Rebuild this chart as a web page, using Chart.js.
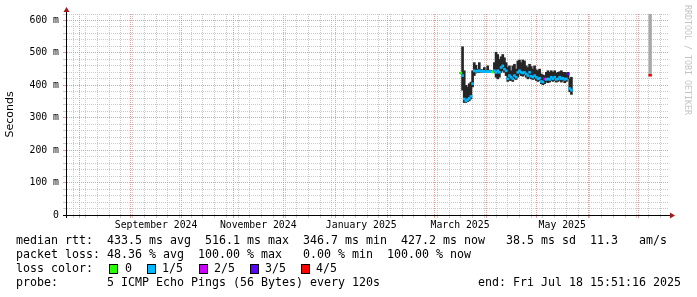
<!DOCTYPE html>
<html><head><meta charset="utf-8">
<script src="https://cdn.jsdelivr.net/npm/chart.js@4.4.1/dist/chart.umd.min.js"></script>
<style>html,body{margin:0;padding:0;background:#fff}#wrap{width:697px;height:297px;position:relative}canvas{display:block}</style>
</head><body><div id="wrap"><canvas id="c" width="697" height="297" style="width:697px;height:297px"></canvas></div>
<script>
// ---- data (RTT in milliseconds; axis labels "m" = milliseconds of seconds) ----
const sampleDates = [
 '2025-03-17','2025-03-18','2025-03-19','2025-03-20','2025-03-21','2025-03-22','2025-03-23','2025-03-24','2025-03-25','2025-03-26',
 '2025-03-27','2025-03-28','2025-03-29','2025-03-30','2025-03-31','2025-04-01','2025-04-02','2025-04-03','2025-04-04','2025-04-05',
 '2025-04-06','2025-04-07','2025-04-08','2025-04-09','2025-04-10','2025-04-11','2025-04-12','2025-04-13','2025-04-14','2025-04-15',
 '2025-04-16','2025-04-17','2025-04-18','2025-04-19','2025-04-20','2025-04-21','2025-04-22','2025-04-23','2025-04-24','2025-04-25',
 '2025-04-26','2025-04-27','2025-04-28','2025-04-29','2025-04-30','2025-05-01','2025-05-02','2025-05-03','2025-05-04','2025-05-05',
 '2025-05-06','2025-05-07','2025-05-08','2025-05-09','2025-05-10','2025-05-11','2025-05-12','2025-05-13','2025-05-14','2025-05-15',
 '2025-05-16','2025-05-17','2025-05-18','2025-05-19','2025-05-20','2025-05-21','2025-05-22'];
const smokeLow = [
 436,385,347,347,350,352,358,395,430,438, 440,440,441,440,440,439,440,440,440,439,
 440,425,420,425,440,445,440,430,412,415, 415,412,420,418,425,435,430,428,432,425,
 420,425,420,418,420,415,412,415,405,402, 405,410,408,410,415,412,415,410,412,415,
 410,415,408,412,420,380,372];
const smokeHigh = [
 440,519,445,400,395,405,410,445,470,462, 450,470,449,448,455,447,460,447,446,444,
 470,502,495,480,488,495,485,470,455,460, 445,460,465,450,475,478,470,478,475,460,
 455,465,458,450,460,448,445,450,435,432, 430,440,445,440,445,440,445,438,440,442,
 445,440,440,438,440,420,425];
const medianRtt = [
 438,430,358,352,356,360,366,405,445,443, 444,445,444,443,443,442,443,442,442,441,
 445,440,445,440,455,460,450,445,420,430, 425,420,430,425,440,445,440,438,440,435,
 430,440,428,425,430,425,420,422,412,410, 420,418,420,418,425,420,425,418,420,425,
 420,422,418,420,435,390,385];
const lossLevel = [
 0,1,1,1,1,1,1,1,1,1, 1,1,1,1,1,1,1,1,1,0,
 1,1,1,1,1,1,1,1,1,1, 1,1,1,1,1,1,1,1,1,1,
 1,1,1,1,1,1,1,1,1,1, 2,1,1,1,1,1,1,1,1,1,
 1,1,1,1,3,1,1];
const lateDates = ['2025-07-08'];
const lateLow = [430];
const lateHigh = [620];
const lateMedian = [431];
const lateLoss = [4];

const lossNames = ['0','1/5','2/5','3/5','4/5'];
const lossColors = ['#26ff00','#00b8ff','#cc00ff','#5e00ff','#ff0000'];

const monthStarts = ['2024-08-01','2024-09-01','2024-10-01','2024-11-01','2024-12-01','2025-01-01',
 '2025-02-01','2025-03-01','2025-04-01','2025-05-01','2025-06-01','2025-07-01','2025-08-01'];
const monthLabels = ['September 2024','November 2024','January 2025','March 2025','May 2025'];
const labelMonthIdx = [1,3,5,7,9];
const yTickValues = [0,100,200,300,400,500,600];
const yMin = 0, yMax = 620, yMinorStep = 20;
const startTime = '2024-07-24T20:00:00';
const endTime = '2025-07-18T15:51:16';

const legendLines = [
 'median rtt:  433.5 ms avg  516.1 ms max  346.7 ms min  427.2 ms now   38.5 ms sd  11.3   am/s',
 'packet loss: 48.36 % avg  100.00 % max   0.00 % min  100.00 % now',
 'loss color:',
 'probe:       5 ICMP Echo Pings (56 Bytes) every 120s'
];
const endLabel = 'end: Fri Jul 18 15:51:16 2025';

// ---- helpers ----
const EPOCH = Date.UTC(2024,7,1);
const dayOf = s => {
  const [d,t] = s.split('T'); const [y,m,dd] = d.split('-').map(Number);
  let h=0,mi=0,se=0; if (t) [h,mi,se] = t.split(':').map(Number);
  return (Date.UTC(y,m-1,dd,h,mi,se)-EPOCH)/864e5;
};
const xMin = dayOf(startTime), xMax = dayOf(endTime);
const sDays = sampleDates.map(dayOf), lDays = lateDates.map(dayOf);
const mDays = monthStarts.map(dayOf);
const key = v => Math.round(v*1000);
const tickKind = new Map();
for (let d = dayOf('2024-07-29'); d < xMax; d += 7) if (d > xMin) tickKind.set(key(d), 'minor');
mDays.forEach(d => { if (d > xMin && d < xMax) tickKind.set(key(d), 'major'); });
const labelAt = new Map();
labelMonthIdx.forEach((mi,i) => { const c = (mDays[mi]+mDays[mi+1])/2 + 0.001; labelAt.set(key(c), monthLabels[i]); tickKind.set(key(c),'label'); });
const xTicks = [...tickKind.keys()].sort((a,b)=>a-b).map(k=>k/1000);

const MAJ = 'rgba(222,140,140,0.85)', MIN = 'rgba(190,190,190,0.8)';
const MED_HALF = 3; // half-height of the median mark, ms

const overlay = {
  id:'overlay',
  afterDraw(chart){
    const {ctx, chartArea:a} = chart;
    ctx.save();
    ctx.strokeStyle = '#000'; ctx.lineWidth = 1;
    ctx.beginPath(); ctx.moveTo(a.left-4, Math.round(a.bottom)+0.5); ctx.lineTo(a.right+3, Math.round(a.bottom)+0.5); ctx.stroke();
    ctx.beginPath(); ctx.moveTo(Math.round(a.left)-0.5, a.bottom+3); ctx.lineTo(Math.round(a.left)-0.5, a.top-3); ctx.stroke();
    ctx.fillStyle = '#a01a1a';
    ctx.beginPath(); const ax = a.right+2, ay = Math.round(a.bottom)+0.5;
    ctx.moveTo(ax, ay-3); ctx.lineTo(ax+5, ay); ctx.lineTo(ax, ay+3); ctx.closePath(); ctx.fill();
    const bx = Math.round(a.left)-0.5, by = a.top-2;
    ctx.beginPath(); ctx.moveTo(bx-3, by); ctx.lineTo(bx, by-5); ctx.lineTo(bx+3, by); ctx.closePath(); ctx.fill();
    ctx.fillStyle = '#000'; ctx.textBaseline = 'middle'; ctx.textAlign = 'left';
    ctx.font = '11.63px "DejaVu Sans Mono"';
    const rows = [241,255,269,283];
    legendLines.forEach((t,i) => ctx.fillText(t, 16, rows[i]));
    ctx.textAlign = 'right'; ctx.fillText(endLabel, 681, rows[3]);
    ctx.textAlign = 'left';
    const boxX = [109,147,199,250,301], txtX = [125,162,214,265,316];
    lossNames.forEach((n,i) => {
      ctx.fillStyle = lossColors[i]; ctx.fillRect(boxX[i]+0.5, rows[2]-4.5, 8, 9);
      ctx.strokeStyle = '#000'; ctx.strokeRect(boxX[i]+0.5, rows[2]-4.5, 8, 9);
      ctx.fillStyle = '#000'; ctx.fillText(n, txtX[i], rows[2]);
    });
    ctx.save(); ctx.translate(687.5, 5); ctx.rotate(Math.PI/2);
    ctx.fillStyle = '#c4c4c4'; ctx.font = '8.3px "DejaVu Sans Mono"'; ctx.textBaseline='middle';
    ctx.fillText('RRDTOOL / TOBI OETIKER', 0, 0); ctx.restore();
    ctx.restore();
  }
};

const xGridColor = c => {
  if (!c || !c.tick) return 'rgba(0,0,0,0)';
  const k = tickKind.get(key(c.tick.value));
  return k==='major'?MAJ:(k==='minor'?MIN:'rgba(0,0,0,0)');
};
const yGridColor = c => (!c || !c.tick) ? 'rgba(0,0,0,0)' : (c.tick.value % 100 === 0 ? MAJ : MIN);

new Chart(document.getElementById('c'), {
  data: {
    datasets: [
      { type:'bar', label:'median', order:0, grouped:false,
        data: sDays.map((d,i)=>({x:d, y:[medianRtt[i]-MED_HALF, medianRtt[i]+MED_HALF]})),
        backgroundColor: lossLevel.map(l=>lossColors[l]), borderWidth:0, barThickness:2 },
      { type:'bar', label:'late median', order:0, grouped:false,
        data: lDays.map((d,i)=>({x:d, y:[lateMedian[i]-MED_HALF, lateMedian[i]+MED_HALF]})),
        backgroundColor: lateLoss.map(l=>lossColors[l]), borderWidth:0, barThickness:2.7 },
      { type:'bar', label:'smoke', order:2, grouped:false,
        data: sDays.map((d,i)=>({x:d, y:[smokeLow[i], smokeHigh[i]]})),
        backgroundColor:'#262626', borderWidth:0, barThickness:2 },
      { type:'bar', label:'late smoke', order:1, grouped:false,
        data: lDays.map((d,i)=>({x:d, y:[lateLow[i], lateHigh[i]]})),
        backgroundColor:'#a8a8a8', borderWidth:0, barThickness:2.7 }
    ]
  },
  options: {
    responsive:false, animation:false, devicePixelRatio:1,
    layout:{ padding:{ top:14, right:29, left:0, bottom:0 } },
    plugins:{ legend:{display:false}, tooltip:{enabled:false} },
    scales:{
      x:{ type:'linear', position:'bottom', min:xMin, max:xMax, offset:false,
        afterBuildTicks: s => { s.ticks = xTicks.map(v=>({value:v})); },
        afterFit: s => { s.height = 82; },
        ticks:{ autoSkip:false, maxRotation:0, padding:2, color:'#000',
          font:{ family:'"DejaVu Sans Mono"', size:9.8 },
          callback: v => labelAt.get(key(v)) || '' },
        grid:{ offset:false, tickLength:3, lineWidth:1, color: xGridColor },
        border:{ display:false, dash:[1,1] } },
      y:{ type:'linear', min:yMin, max:yMax, stacked:false,
        afterBuildTicks: s => { const t=[]; for (let v=yMin; v<=yMax; v+=yMinorStep) t.push({value:v}); s.ticks=t; },
        afterFit: s => { s.width = 67; },
        title:{ display:true, text:'Seconds', color:'#000', font:{ family:'"DejaVu Sans"', size:11 }, padding:{top:3.5,bottom:0} },
        ticks:{ autoSkip:false, padding:4, color:'#000', font:{ family:'"DejaVu Sans Mono"', size:9.8 },
          callback: v => yTickValues.includes(v) ? (v===0 ? '0' : v+' m') : '' },
        grid:{ tickLength:4, lineWidth:1, color: yGridColor },
        border:{ display:false, dash:[1,1] } }
    }
  },
  plugins:[overlay]
});
</script></body></html>
